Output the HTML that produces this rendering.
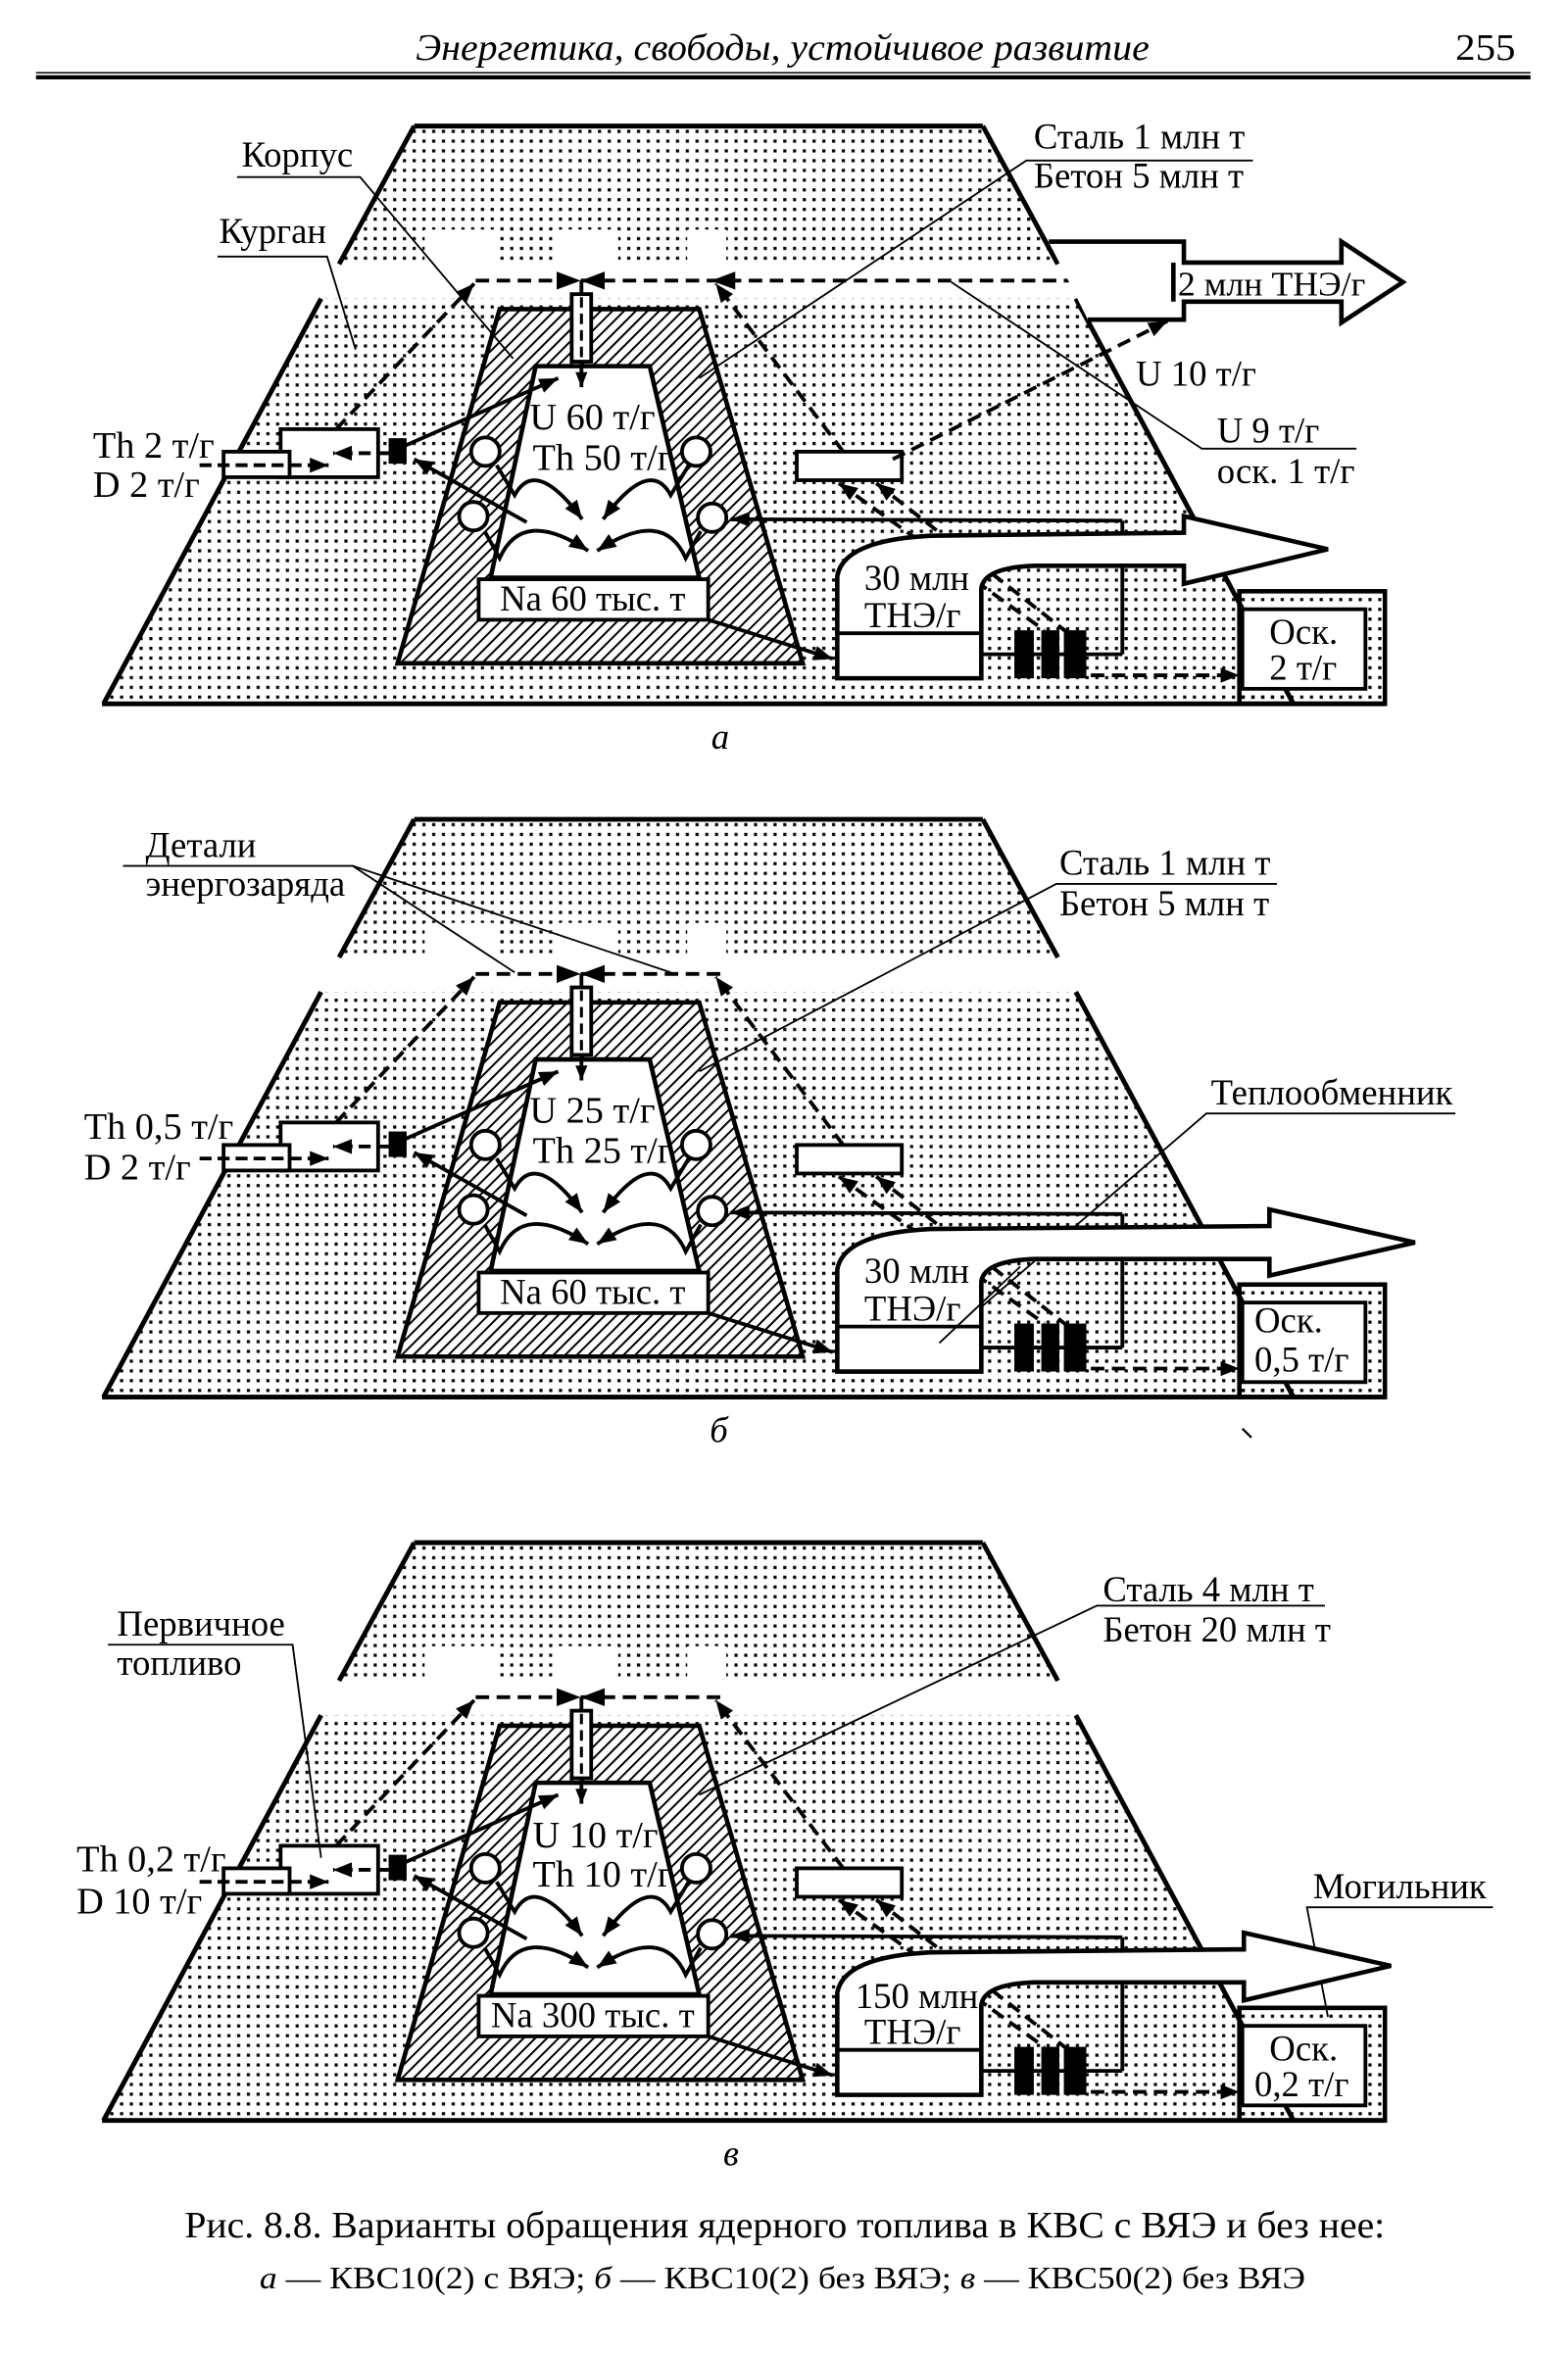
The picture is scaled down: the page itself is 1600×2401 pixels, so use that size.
<!DOCTYPE html>
<html><head><meta charset="utf-8"><style>
html,body{margin:0;padding:0;background:#fff}
svg{display:block}
text{font-family:"Liberation Serif","DejaVu Serif",serif;fill:#000}
</style></head><body>
<svg width="1600" height="2401" viewBox="0 0 1045 1568" preserveAspectRatio="none" xmlns="http://www.w3.org/2000/svg">
<defs>
<pattern id="dots" width="6.5" height="6.5" patternUnits="userSpaceOnUse"><rect x="2" y="2" width="2.1" height="2.1" fill="#000"/></pattern>
<pattern id="hatch" width="5.5" height="10" patternUnits="userSpaceOnUse" patternTransform="rotate(45)"><rect x="0" y="0" width="1.3" height="10" fill="#000"/></pattern>
<marker id="ah" viewBox="0 0 10 8" refX="10" refY="4" markerWidth="14" markerHeight="10" markerUnits="userSpaceOnUse" orient="auto-start-reverse"><path d="M0,0L10,4L0,8z" fill="#000"/></marker>
<marker id="ahs" viewBox="0 0 10 8" refX="10" refY="4" markerWidth="11" markerHeight="8" markerUnits="userSpaceOnUse" orient="auto-start-reverse"><path d="M0,0L10,4L0,8z" fill="#000"/></marker>
<g id="base">
  <polygon points="276,84 655,84 862,469 69,469" fill="url(#dots)"/>
  <rect x="150" y="176" width="700" height="23" fill="#fff"/>
  <rect x="283" y="153" width="50" height="23" fill="#fff"/>
  <rect x="368" y="153" width="44" height="23" fill="#fff"/>
  <rect x="458" y="153" width="26" height="23" fill="#fff"/>
  <rect x="826" y="394" width="97" height="75" fill="url(#dots)" stroke="#000" stroke-width="3"/>
  <g stroke="#000" stroke-width="3.2" fill="none">
    <line x1="276" y1="84" x2="655" y2="84"/>
    <line x1="276" y1="84" x2="226" y2="176"/>
    <line x1="214" y1="199" x2="69" y2="469"/>
    <line x1="655" y1="84" x2="705" y2="176"/>
    <line x1="717" y1="199" x2="862" y2="469"/>
    <line x1="68" y1="469" x2="923" y2="469"/>
  </g>
  <rect x="828" y="406" width="82" height="53" fill="#fff" stroke="#000" stroke-width="2.5"/>
  <polygon points="333,206 466,206 535,442 265,442" fill="#fff"/>
  <polygon points="333,206 466,206 535,442 265,442" fill="url(#hatch)" stroke="#000" stroke-width="3"/>
  <polygon points="357,244 433,244 466,385 327,385" fill="#fff" stroke="#000" stroke-width="3"/>
  <rect x="319" y="386" width="153" height="27" fill="#fff" stroke="#000" stroke-width="2.5"/>
  <line x1="317" y1="187" x2="485" y2="187" stroke="#000" stroke-width="2.5" stroke-dasharray="9 5"/>
  <polygon points="371,181 387,187 371,193" fill="#000"/>
  <polygon points="403,181 387,187 403,193" fill="#000"/>
  <line x1="387.5" y1="187" x2="387.5" y2="197" stroke="#000" stroke-width="2.5"/>
  <rect x="381" y="196" width="13" height="45" fill="#fff" stroke="#000" stroke-width="2.5"/>
  <line x1="387.5" y1="198" x2="387.5" y2="240" stroke="#000" stroke-width="2" stroke-dasharray="7 4"/>
  <line x1="387.5" y1="241" x2="387.5" y2="258" stroke="#000" stroke-width="2.5" marker-end="url(#ahs)"/>
  <g stroke="#000" stroke-width="2.5" stroke-dasharray="9 5" fill="none">
    <line x1="224" y1="286" x2="316" y2="189" marker-end="url(#ah)"/>
    <line x1="562" y1="301" x2="477" y2="189" marker-end="url(#ah)"/>
    <line x1="559" y1="322" x2="696" y2="420" marker-start="url(#ah)"/>
    <line x1="584" y1="322" x2="712" y2="422" marker-start="url(#ah)"/>
  </g>
  <rect x="187" y="286" width="65" height="32" fill="#fff" stroke="#000" stroke-width="2.5"/>
  <rect x="149" y="301" width="44" height="17" fill="#fff" stroke="#000" stroke-width="2.5"/>
  <line x1="133" y1="310" x2="219" y2="310" stroke="#000" stroke-width="2.5" stroke-dasharray="8 4" marker-end="url(#ah)"/>
  <line x1="259" y1="302" x2="222" y2="302" stroke="#000" stroke-width="2.5" stroke-dasharray="8 4" marker-end="url(#ah)"/>
  <rect x="259" y="292" width="12" height="17" fill="#000"/>
  <g stroke="#000" stroke-width="2.5" fill="none">
    <line x1="270" y1="297" x2="372" y2="252" marker-end="url(#ah)"/>
    <line x1="351" y1="348" x2="276" y2="306" marker-end="url(#ah)"/>
    <line x1="472" y1="413" x2="555" y2="439" marker-end="url(#ah)"/>
    <path d="M331,310 L343,330 Q357,304 388,346" marker-end="url(#ah)"/>
    <path d="M323,354 L333,372 Q348,338 392,367" marker-end="url(#ah)"/>
    <path d="M459,310 L447,330 Q433,304 402,346" marker-end="url(#ah)"/>
    <path d="M467,354 L457,372 Q442,338 398,367" marker-end="url(#ah)"/>
    <line x1="748" y1="347" x2="487" y2="346" marker-end="url(#ah)"/>
    <line x1="748" y1="347" x2="748" y2="436"/>
  </g>
  <g fill="#fff" stroke="#000" stroke-width="2.5">
    <circle cx="323.5" cy="301" r="9.5"/><circle cx="315.5" cy="344" r="9.5"/>
    <circle cx="464" cy="301" r="9.5"/><circle cx="474.6" cy="345" r="9.5"/>
  </g>
  <rect x="531" y="301" width="70" height="19" fill="#fff" stroke="#000" stroke-width="2.5"/>
  <line x1="649" y1="436" x2="748" y2="436" stroke="#000" stroke-width="2.5"/>
  <rect x="676" y="420" width="13" height="32" fill="#000"/>
  <rect x="694" y="420" width="12" height="32" fill="#000"/>
  <rect x="709" y="420" width="15" height="32" fill="#000"/>
  <line x1="727" y1="450" x2="826" y2="450" stroke="#000" stroke-width="2.5" stroke-dasharray="9 5" marker-end="url(#ah)"/>
</g>
</defs>

<text x="277" y="40" font-size="25" font-style="italic" textLength="489" lengthAdjust="spacingAndGlyphs">Энергетика, свободы, устойчивое развитие</text>
<text x="970" y="40" font-size="25" textLength="40" lengthAdjust="spacingAndGlyphs">255</text>
<line x1="24" y1="48.5" x2="1020" y2="48.5" stroke="#000" stroke-width="1"/>
<line x1="24" y1="51.5" x2="1020" y2="51.5" stroke="#000" stroke-width="2.8"/>

<use href="#base"/>
<use href="#base" y="462"/>
<use href="#base" y="944"/>

<!-- A -->
<line x1="485" y1="187" x2="722" y2="187" stroke="#000" stroke-width="2.5" stroke-dasharray="9 5"/>
<polygon points="490,181 474,187 490,193" fill="#000"/>
<polygon points="699,161 789,161 789,175 894,175 894,161 935,188 894,215 894,201 789,201 789,213 725,213" fill="#fff"/>
<polyline points="699,161 789,161 789,175 894,175 894,161 935,188 894,215 894,201 789,201 789,213 725,213" fill="none" stroke="#000" stroke-width="3"/>
<line x1="782" y1="175" x2="782" y2="201" stroke="#000" stroke-width="3"/>
<text x="785" y="197" font-size="23" textLength="125" lengthAdjust="spacingAndGlyphs">2 млн ТНЭ/г</text>
<line x1="595" y1="306" x2="778" y2="214" stroke="#000" stroke-width="2.5" stroke-dasharray="9 5" marker-end="url(#ah)"/>
<g stroke="#000" stroke-width="1.2" fill="none">
  <polyline points="158,118 240,118 342,239"/>
  <polyline points="145,171 218,171 237,233"/>
  <polyline points="835,107 684,107 466,252"/>
  <polyline points="904,299 801,299 634,188"/>
</g>
<text x="161" y="111" font-size="24">Корпус</text>
<text x="146" y="162" font-size="24">Курган</text>
<text x="689" y="99" font-size="24">Сталь 1 млн т</text>
<text x="689" y="125" font-size="24">Бетон 5 млн т</text>
<text x="757" y="257" font-size="24">U 10 т/г</text>
<text x="811" y="295" font-size="24">U 9 т/г</text>
<text x="811" y="322" font-size="24">оск. 1 т/г</text>
<text x="62" y="305" font-size="25">Th 2 т/г</text>
<text x="62" y="331" font-size="25">D 2 т/г</text>
<text x="353" y="286" font-size="25">U 60 т/г</text>
<text x="355" y="313" font-size="25">Th 50 т/г</text>
<text x="395" y="407" font-size="24" text-anchor="middle">Na 60 тыс. т</text>
<path d="M558,452 L558,384 Q562,360 620,357 L789,355 L789,344 L885,366 L789,389 L789,377 L690,377 Q656,378 654,392 L654,452 Z" fill="#fff" stroke="#000" stroke-width="3"/>
<line x1="558" y1="422" x2="654" y2="422" stroke="#000" stroke-width="2.5"/>
<text x="576" y="393" font-size="24">30 млн</text>
<text x="576" y="418" font-size="24">ТНЭ/г</text>
<text x="846" y="429" font-size="24">Оск.</text>
<text x="846" y="453" font-size="24">2 т/г</text>
<text x="474" y="499" font-size="24" font-style="italic">а</text>

<!-- B -->
<g stroke="#000" stroke-width="1.2" fill="none">
  <polyline points="82,577 235,577 343,648"/>
  <line x1="235" y1="577" x2="447" y2="648"/>
  <polyline points="851,589 704,589 466,714"/>
  <polyline points="970,742 804,742 626,895"/>
</g>
<text x="97" y="571" font-size="24">Детали</text>
<text x="97" y="597" font-size="24">энергозаряда</text>
<text x="706" y="583" font-size="24">Сталь 1 млн т</text>
<text x="706" y="610" font-size="24">Бетон 5 млн т</text>
<text x="807" y="736" font-size="24">Теплообменник</text>
<text x="56" y="759" font-size="25">Th 0,5 т/г</text>
<text x="56" y="786" font-size="25">D 2 т/г</text>
<text x="353" y="748" font-size="25">U 25 т/г</text>
<text x="355" y="775" font-size="25">Th 25 т/г</text>
<text x="395" y="869" font-size="24" text-anchor="middle">Na 60 тыс. т</text>
<path d="M558,914 L558,846 Q562,822 620,819 L846,817 L846,806 L943,828 L846,850 L846,839 L690,839 Q656,840 654,854 L654,914 Z" fill="#fff" stroke="#000" stroke-width="3"/>
<line x1="558" y1="884" x2="654" y2="884" stroke="#000" stroke-width="2.5"/>
<line x1="626" y1="895" x2="680" y2="844" stroke="#000" stroke-width="1.2"/>
<text x="576" y="855" font-size="24">30 млн</text>
<text x="576" y="880" font-size="24">ТНЭ/г</text>
<text x="836" y="888" font-size="24">Оск.</text>
<text x="836" y="914" font-size="24">0,5 т/г</text>
<line x1="828" y1="952" x2="834" y2="958" stroke="#000" stroke-width="1.5"/>
<text x="473" y="961" font-size="24" font-style="italic">б</text>

<!-- C -->
<g stroke="#000" stroke-width="1.2" fill="none">
  <polyline points="72,1096 195,1096 214,1238"/>
  <polyline points="883,1070 731,1070 466,1196"/>
  <polyline points="995,1271 871,1271 885,1344"/>
</g>
<text x="78" y="1090" font-size="24">Первичное</text>
<text x="78" y="1116" font-size="24">топливо</text>
<text x="735" y="1067" font-size="24">Сталь 4 млн т</text>
<text x="735" y="1094" font-size="24">Бетон 20 млн т</text>
<text x="875" y="1265" font-size="24">Могильник</text>
<text x="51" y="1247" font-size="25">Th 0,2 т/г</text>
<text x="51" y="1275" font-size="25">D 10 т/г</text>
<text x="355" y="1231" font-size="25">U 10 т/г</text>
<text x="355" y="1257" font-size="25">Th 10 т/г</text>
<text x="395" y="1351" font-size="24" text-anchor="middle">Na 300 тыс. т</text>
<path d="M558,1396 L558,1328 Q562,1304 620,1301 L829,1299 L829,1288 L927,1310 L829,1333 L829,1321 L690,1321 Q656,1322 654,1336 L654,1396 Z" fill="#fff" stroke="#000" stroke-width="3"/>
<line x1="558" y1="1366" x2="654" y2="1366" stroke="#000" stroke-width="2.5"/>
<text x="570" y="1338" font-size="24">150 млн</text>
<text x="576" y="1362" font-size="24">ТНЭ/г</text>
<text x="846" y="1373" font-size="24">Оск.</text>
<text x="836" y="1397" font-size="24">0,2 т/г</text>
<text x="482" y="1443" font-size="24" font-style="italic">в</text>

<text x="123" y="1491" font-size="25" textLength="800" lengthAdjust="spacingAndGlyphs">Рис. 8.8. Варианты обращения ядерного топлива в КВС с ВЯЭ и без нее:</text>
<text x="173" y="1525" font-size="21" textLength="697" lengthAdjust="spacingAndGlyphs"><tspan font-style="italic">а</tspan> — КВС10(2) с ВЯЭ; <tspan font-style="italic">б</tspan> — КВС10(2) без ВЯЭ; <tspan font-style="italic">в</tspan> — КВС50(2) без ВЯЭ</text>
</svg>
</body></html>
